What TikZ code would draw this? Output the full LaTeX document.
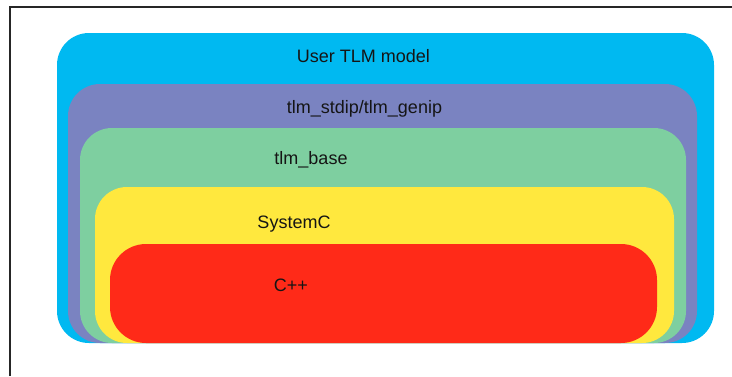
\documentclass[tikz,border=0pt]{standalone}
\usepackage{fontspec}
\setmainfont{Liberation Sans}
\definecolor{cblue}{HTML}{00B9F1}
\definecolor{cpurple}{HTML}{7A83C1}
\definecolor{cgreen}{HTML}{7ECFA0}
\definecolor{cyellow}{HTML}{FFE83E}
\definecolor{cred}{HTML}{FF2A18}
\definecolor{ctext}{HTML}{151515}
\begin{document}
\begin{tikzpicture}[x=1pt,y=-1pt,
  layer/.style={rounded corners=32pt},
  lbl/.style={font=\fontsize{18}{20}\selectfont, text=ctext, inner sep=0pt, anchor=base}]
\useasboundingbox (0,0) rectangle (732,376);
\fill[white] (0,0) rectangle (732,376);
% frame
\coordinate (ftl) at (9.5,6.5);
\coordinate (ftr) at (732,6.5);
\coordinate (fbl) at (9.5,376);
\draw[line width=2pt, black!85] (fbl) -- (ftl) -- (ftr);
% layers
\fill[cblue, layer] (57,33) rectangle (714,343);
\fill[cpurple, layer] (68,84) rectangle (697,343);
\fill[cgreen, layer] (80,128) rectangle (686,343);
\fill[cyellow, layer] (95,187) rectangle (674,343);
\fill[cred, rounded corners=36pt] (110,244) rectangle (657,343);
% labels
\node[lbl] (user) at (363.5,62) {User TLM model};
\node[lbl] (stdip) at (364.5,113) {tlm\_stdip/tlm\_genip};
\node[lbl] (base) at (311,164) {tlm\_base};
\node[lbl] (sysc) at (294,228) {SystemC};
\node[lbl] (cpp) at (291,291) {C++};
\end{tikzpicture}
\end{document}
